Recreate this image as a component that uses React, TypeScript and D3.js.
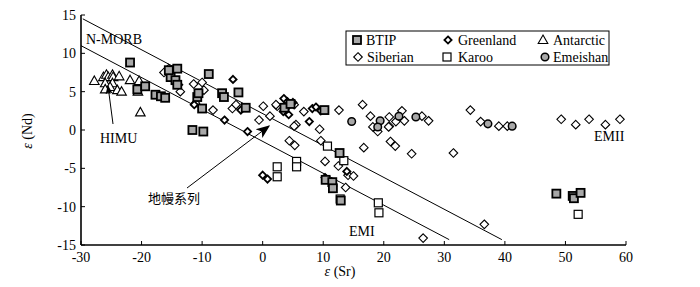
import React from "react";
import * as d3 from "d3";

const xTicks = [-30, -20, -10, 0, 10, 20, 30, 40, 50, 60];
const yTicks = [-15, -10, -5, 0, 5, 10, 15];

const btip: [number, number][] = [
  [-21.9, 8.8], [-20.7, 5.3], [-19.4, 5.7], [-17.7, 4.6], [-16.8, 4.4], [-16.1, 4.2],
  [-15.2, 6.9], [-14.1, 8.0], [-14.4, 6.5], [-14.1, 5.9], [-15.5, 7.8], [-10.8, 4.3],
  [-10.6, 4.8], [-10.0, 2.8], [-8.9, 7.3], [-6.7, 4.8], [-6.4, 4.3], [-4.0, 4.9],
  [-2.8, 2.9], [-11.6, 0.0], [-9.8, -0.2], [3.6, 2.9], [4.6, 3.4], [10.2, 2.6],
  [12.7, -3.0], [10.4, -6.5], [11.5, -6.8], [11.6, -7.6], [12.9, -9.2],
  [48.5, -8.3], [51.2, -8.6], [51.4, -8.9], [52.5, -8.2],
];
const karoo: [number, number][] = [
  [2.4, -4.8], [2.4, -6.1], [5.6, -4.1], [5.6, -4.8], [10.7, -2.1], [13.4, -4.0],
  [12.8, -9.0], [19.1, -9.5], [19.2, -10.8], [52.1, -11.0],
];
const antarctic: [number, number][] = [
  [-27.8, 6.4], [-26.3, 6.9], [-25.8, 7.2], [-25.5, 6.9], [-24.8, 7.2], [-24.7, 6.9],
  [-23.7, 7.0], [-26.0, 6.1], [-24.8, 6.1], [-25.2, 5.6], [-24.0, 5.2], [-23.3, 5.0],
  [-26.0, 5.3], [-21.9, 6.5], [-20.4, 6.4], [-20.2, 2.3], [-20.6, 5.0],
];
const emeishan: [number, number][] = [
  [14.7, 1.1], [19.4, 1.2], [19.0, 0.4], [22.5, 1.8], [25.3, 1.7], [37.2, 0.8], [41.2, 0.5],
];
const greenland: [number, number][] = [
  [-4.9, 6.6], [-6.3, 1.3], [-3.6, 2.6], [-2.5, -0.2], [0.0, -5.9], [0.8, -6.4],
  [3.5, 4.1], [4.1, 3.7], [3.8, 2.8], [3.4, 2.4], [4.3, 2.0], [5.0, 3.6], [7.7, 1.1],
  [8.2, 2.8], [8.8, 3.0], [9.6, 2.5], [10.3, -6.2], [13.9, -5.4], [-11.3, 3.3],
];
const siberian: [number, number][] = [
  [-16.3, 7.5], [-15.5, 8.0], [-14.8, 7.8], [-13.9, 5.9], [-13.6, 5.0], [-11.4, 6.0],
  [-10.0, 6.2], [-9.7, 5.2], [-11.1, 3.5], [-8.2, 2.6], [-5.0, 2.8], [-4.4, 3.3],
  [-0.6, 1.3], [0.1, 3.1], [1.2, 1.8], [2.4, 3.1], [2.2, 3.3], [6.8, 2.4], [5.2, 3.3],
  [5.5, 0.7], [5.2, 0.5], [9.4, 0.1], [4.4, -1.4], [5.3, -2.0], [9.6, -1.4], [12.6, 2.6],
  [16.7, -2.3], [10.3, -4.1], [12.5, -4.7], [14.1, -5.9], [15.0, -6.0], [13.7, -7.5],
  [21.1, -1.5], [21.9, -2.1], [24.6, -3.1], [31.5, -3.0], [26.5, -14.1], [36.6, -12.3],
  [16.5, 3.3], [17.8, 1.8], [18.2, 0.4], [19.0, -0.2], [20.9, 1.7], [20.9, 0.5],
  [22.0, 1.1], [23.0, 2.5], [23.4, 1.2], [26.3, 1.8], [27.4, 1.2], [34.3, 2.6],
  [36.0, 1.1], [39.0, 0.5], [40.4, 0.5], [49.3, 1.4], [51.7, 0.7], [53.9, 1.4],
  [56.6, 0.7], [59.0, 1.4], [20.8, 0.4],
];
const upperLine: [number, number][] = [[-29.7, 14.5], [39.5, -14.3]];
const lowerLine: [number, number][] = [[-30, 11.0], [30.8, -14.3]];

const SERIF = "'Liberation Serif', 'DejaVu Serif', serif";

type Kind = "btip" | "greenland" | "antarctic" | "siberian" | "karoo" | "emeishan";

function Marker({ kind, x, y }: { kind: Kind; x: number; y: number }) {
  switch (kind) {
    case "btip":
      return <rect x={x - 4} y={y - 4} width={8} height={8} fill="#a8a8a8" stroke="#000" strokeWidth={1.8} />;
    case "karoo":
      return <rect x={x - 4} y={y - 4} width={8} height={8} fill="#fff" stroke="#000" strokeWidth={1.2} />;
    case "greenland":
      return <path d={`M${x},${y - 3.6}L${x + 3.6},${y}L${x},${y + 3.6}L${x - 3.6},${y}Z`} fill="#fff" stroke="#000" strokeWidth={1.8} />;
    case "siberian":
      return <path d={`M${x},${y - 4.3}L${x + 4.3},${y}L${x},${y + 4.3}L${x - 4.3},${y}Z`} fill="#fff" stroke="#000" strokeWidth={1.1} />;
    case "antarctic":
      return <path d={`M${x},${y - 5}L${x + 4.8},${y + 3.5}L${x - 4.8},${y + 3.5}Z`} fill="#fff" stroke="#000" strokeWidth={1.1} />;
    case "emeishan":
      return <circle cx={x} cy={y} r={3.8} fill="#a8a8a8" stroke="#000" strokeWidth={1.5} />;
  }
}

export default function App() {
  const W = 700, H = 287;
  const x = d3.scaleLinear().domain([-30, 60]).range([81, 626]);
  const y = d3.scaleLinear().domain([-15, 15]).range([245, 15]);
  const line = d3.line<[number, number]>().x((d) => x(d[0])).y((d) => y(d[1]));

  const series: { kind: Kind; data: [number, number][] }[] = [
    { kind: "siberian", data: siberian },
    { kind: "karoo", data: karoo },
    { kind: "antarctic", data: antarctic },
    { kind: "greenland", data: greenland },
    { kind: "btip", data: btip },
    { kind: "emeishan", data: emeishan },
  ];

  const legend: { kind: Kind; label: string; mx: number; tx: number; my: number }[] = [
    { kind: "btip", label: "BTIP", mx: 357, tx: 366, my: 40 },
    { kind: "greenland", label: "Greenland", mx: 448, tx: 458, my: 40 },
    { kind: "antarctic", label: "Antarctic", mx: 543, tx: 553, my: 40 },
    { kind: "siberian", label: "Siberian", mx: 358, tx: 367, my: 57 },
    { kind: "karoo", label: "Karoo", mx: 447, tx: 458, my: 57 },
    { kind: "emeishan", label: "Emeishan", mx: 545, tx: 553, my: 57 },
  ];

  return (
    <svg width={W} height={H} style={{ position: "absolute", left: 0, top: 0, background: "#fff" }} fontFamily={SERIF}>
      <defs>
        <marker id="arr" viewBox="0 0 10 10" refX="9" refY="5" markerWidth="9" markerHeight="9" orient="auto-start-reverse" markerUnits="userSpaceOnUse">
          <path d="M0,1L10,5L0,9L2.5,5Z" fill="#000" />
        </marker>
        <marker id="arr2" viewBox="0 0 10 10" refX="9" refY="5" markerWidth="14" markerHeight="14" orient="auto-start-reverse" markerUnits="userSpaceOnUse">
          <path d="M0,1L10,5L0,9L2.5,5Z" fill="#000" />
        </marker>
      </defs>
      <rect width={W} height={H} fill="#fff" />

      {/* reference lines */}
      <path d={line(upperLine) || ""} stroke="#000" strokeWidth={1} fill="none" />
      <path d={line(lowerLine) || ""} stroke="#000" strokeWidth={1} fill="none" />

      {/* points */}
      {series.map((s) =>
        s.data.map((d, i) => <Marker key={s.kind + i} kind={s.kind} x={x(d[0])} y={y(d[1])} />)
      )}

      {/* axes */}
      <line x1={x(-30)} x2={x(60)} y1={y(-15)} y2={y(-15)} stroke="#000" strokeWidth={1.6} />
      <line x1={x(-30)} x2={x(-30)} y1={y(-15)} y2={y(15)} stroke="#000" strokeWidth={1.6} />
      {xTicks.map((t) => (
        <g key={"xt" + t}>
          <line x1={x(t)} x2={x(t)} y1={y(-15)} y2={y(-15) - 4} stroke="#000" strokeWidth={1} />
          <text x={x(t)} y={y(-15) + 17} textAnchor="middle" fontSize={14}>{t}</text>
        </g>
      ))}
      {yTicks.map((t) => (
        <g key={"yt" + t}>
          <line x1={x(-30)} x2={x(-30) + 4} y1={y(t)} y2={y(t)} stroke="#000" strokeWidth={1} />
          <text x={x(-30) - 5} y={y(t) + 5} textAnchor="end" fontSize={14}>{t}</text>
        </g>
      ))}
      <text x={340} y={276} textAnchor="middle" fontSize={14}>
        <tspan fontStyle="italic">ε</tspan> (Sr)
      </text>
      <text transform="translate(32,131) rotate(-90)" textAnchor="middle" fontSize={14}>
        <tspan fontStyle="italic">ε</tspan> (Nd)
      </text>

      {/* annotations */}
      <text x={86} y={44} fontSize={14}>N-MORB</text>
      <text x={100} y={143} fontSize={14}>HIMU</text>
      <text x={349} y={236} fontSize={14}>EMI</text>
      <text x={594} y={141} fontSize={14}>EMII</text>
      <text x={148} y={203} fontSize={13} fontFamily="'Noto Sans CJK SC', sans-serif">地幔系列</text>
      <line x1={113} y1={124} x2={108} y2={86} stroke="#000" strokeWidth={1} markerEnd="url(#arr)" />
      <line x1={187} y1={188} x2={269} y2={126} stroke="#000" strokeWidth={1} markerEnd="url(#arr2)" />

      {/* legend */}
      <rect x={346} y={31} width={263} height={34} fill="#fff" stroke="#000" strokeWidth={1} />
      {legend.map((l) => (
        <g key={l.label}>
          <Marker kind={l.kind} x={l.mx} y={l.my} />
          <text x={l.tx} y={l.my + 5} fontSize={14}>{l.label}</text>
        </g>
      ))}
    </svg>
  );
}
